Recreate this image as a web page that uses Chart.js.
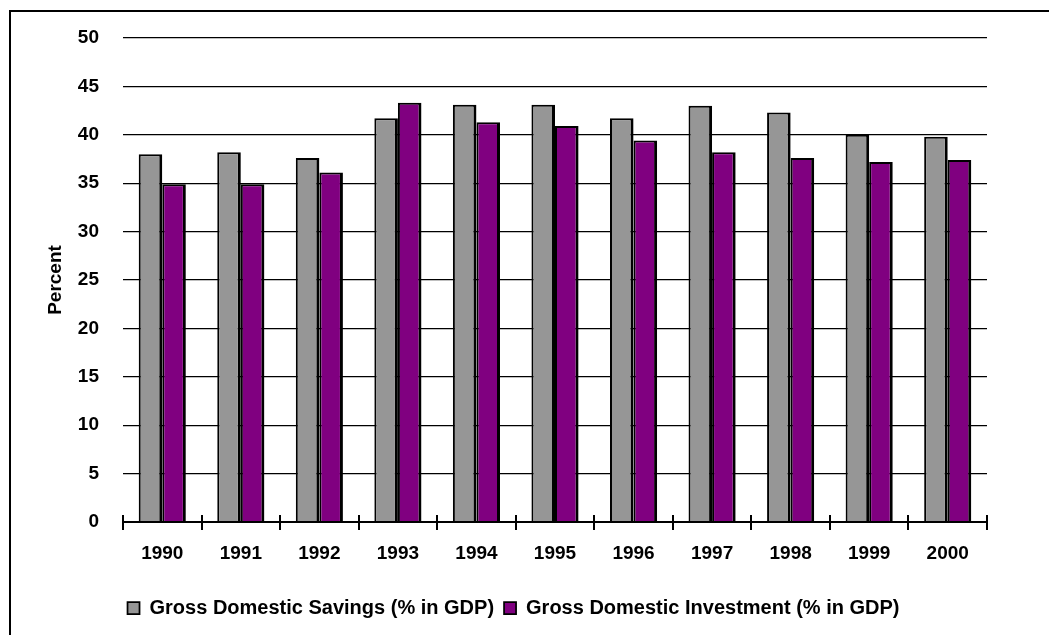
<!DOCTYPE html>
<html>
<head>
<meta charset="utf-8">
<script src="https://cdn.jsdelivr.net/npm/chart.js@4.4.1/dist/chart.umd.min.js"></script>
<style>
body { margin: 0; background: #fff; }
#wrap { position: relative; width: 1052px; height: 635px; overflow: hidden; }
#myChart { position: absolute; left: 0; top: 0; }
#frame { position: absolute; left: 9px; top: 10px; width: 1038px; height: 700px; border-top: 2px solid #000; border-left: 2px solid #000; }
</style>
</head>
<body>
<div id="wrap">
<canvas id="myChart" width="1052" height="635"></canvas>
<div id="frame"></div>
</div>
<script>
years = ['1990', '1991', '1992', '1993', '1994', '1995', '1996', '1997', '1998', '1999', '2000']
savings = [38.0, 38.2, 37.6, 41.7, 43.1, 43.1, 41.7, 43.0, 42.3, 40.0, 39.8]
investment = [34.9, 34.9, 36.1, 43.3, 41.3, 40.9, 39.4, 38.2, 37.6, 37.2, 37.4]

Chart.defaults.font.family = '"Liberation Sans", Arial, sans-serif'
Chart.defaults.font.weight = 'bold'
Chart.defaults.font.size = 19
Chart.defaults.color = '#000'

// little ticks crossing the x axis at the category edges
const crossTicks = {
    id: 'crossTicks',
    afterDatasetsDraw(chart) {
        const xs = chart.scales.x
        const y0 = chart.scales.y.getPixelForValue(0)
        const c = chart.ctx
        c.save()
        c.strokeStyle = '#000'
        c.lineWidth = 2
        c.beginPath()
        for (i = 0; i <= years.length; i++) {
            const x = Math.round(xs.left + i * xs.width / years.length)
            c.moveTo(x, y0 - 7)
            c.lineTo(x, y0 + 8)
        }
        c.moveTo(xs.left, y0)
        c.lineTo(xs.right, y0)
        c.stroke()
        c.restore()
    }
}

const ctx = document.getElementById('myChart').getContext('2d')
const myChart = new Chart(ctx, {
    type: 'bar',
    data: {
        labels: years,
        datasets: [{
            label: 'Gross Domestic Savings (% in GDP)',
            data: savings,
            backgroundColor: '#969696',
            borderColor: '#000',
            borderWidth: { top: 2, left: 2, right: 3, bottom: 0 },
            borderSkipped: 'bottom'
        }, {
            label: 'Gross Domestic Investment (% in GDP)',
            data: investment,
            backgroundColor: '#800080',
            borderColor: '#000',
            borderWidth: { top: 2, left: 2, right: 3, bottom: 0 },
            borderSkipped: 'bottom'
        }]
    },
    options: {
        responsive: false,
        animation: false,
        datasets: {
            bar: { categoryPercentage: 0.6, barPercentage: 1.0 }
        },
        layout: {
            padding: { left: 40, right: 65, top: 38, bottom: 7 }
        },
        plugins: {
            tooltip: { enabled: false },
            legend: {
                position: 'bottom',
                labels: {
                    boxWidth: 12,
                    boxHeight: 12,
                    padding: 10,
                    font: { size: 20 }
                }
            }
        },
        scales: {
            x: {
                grid: { display: false, drawTicks: false },
                border: { display: false },
                ticks: { padding: 20 },
                afterFit(scale) { scale.height = 66 }
            },
            y: {
                min: 0,
                max: 50,
                ticks: { stepSize: 5, padding: 24 },
                grid: { color: '#000', lineWidth: 1.2, drawTicks: false },
                border: { display: false },
                title: {
                    display: true,
                    text: 'Percent',
                    font: { size: 19 },
                    padding: 4
                },
                afterFit(scale) { scale.width = 83 }
            }
        }
    },
    plugins: [crossTicks]
})
</script>
</body>
</html>
